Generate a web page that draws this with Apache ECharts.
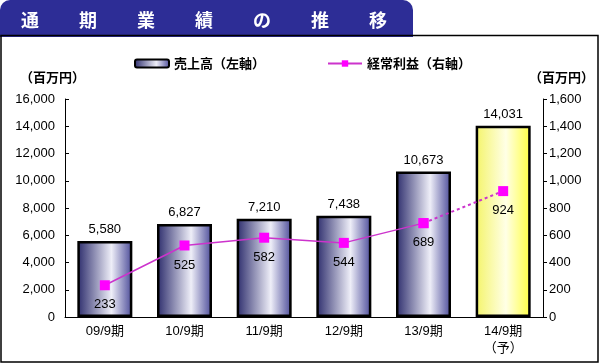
<!DOCTYPE html>
<html><head><meta charset="utf-8">
<script src="https://cdn.jsdelivr.net/npm/echarts@6/dist/echarts.min.js"></script>
<style>html,body{margin:0;padding:0;background:#fff}#c{width:600px;height:364px}</style>
</head><body><div id="c"></div>
<script>
var titleChars = ['通','期','業','績','の','推','移'];
var categories = ['09/9期','10/9期','11/9期','12/9期','13/9期','14/9期\n（予）'];
var sales = [5580, 6827, 7210, 7438, 10673, 14031];
var profit = [233, 525, 582, 544, 689, 924];
var leftTicks = {min: 0, max: 16000, interval: 2000};
var rightTicks = {min: 0, max: 1600, interval: 200};
var unitLabel = '（百万円）';
var salesName = '売上高（左軸）';
var profitName = '経常利益（右軸）';

var FONT = '"Liberation Sans", "Noto Sans CJK JP", sans-serif';
var navyGrad = new echarts.graphic.LinearGradient(0,0,1,0,[
  {offset:0,color:'#2c2c6c'},{offset:0.62,color:'#eeeef8'},{offset:1,color:'#4a4a98'}]);
var yellowGrad = new echarts.graphic.LinearGradient(0,0,1,0,[
  {offset:0,color:'#f4f46a'},{offset:0.55,color:'#ffffe6'},{offset:1,color:'#ffff40'}]);

var salesData = sales.map(function(v,i){
  var d = {value:v};
  if (i === sales.length-1) d.itemStyle = {color: yellowGrad};
  return d;
});
var n = profit.length;
var solidProfit = profit.map(function(v,i){ return i < n-1 ? v : '-'; });
var dotProfit = profit.map(function(v,i){ return i >= n-2 ? v : '-'; });

var graphics = [
  {type:'rect', shape:{x:0,y:0,width:413,height:37,r:[10,10,0,0]}, style:{fill:'#2d2d96'}, z:10},
  {type:'rect', shape:{x:1,y:35.5,width:597,height:326.5}, style:{fill:null,stroke:'#000',lineWidth:1.5}, z:11},
  {type:'text', left:20, top:71, style:{text:unitLabel, font:'bold 13px "Noto Sans CJK JP", sans-serif', fill:'#000'}},
  {type:'text', left:529, top:71, style:{text:unitLabel, font:'bold 13px "Noto Sans CJK JP", sans-serif', fill:'#000'}}
];
titleChars.forEach(function(ch,i){
  graphics.push({type:'text', x:30 + i*58, y:20, z:12,
    style:{text:ch, font:'bold 18px "Noto Sans CJK JP", sans-serif', fill:'#fff', align:'center', verticalAlign:'middle'}});
});

var chart = echarts.init(document.getElementById('c'), null, {renderer:'canvas'});
chart.setOption({
  animation:false,
  backgroundColor:'#fff',
  graphic: graphics,
  legend:{
    left:129, top:52, itemWidth:34, itemHeight:8, itemGap:62,
    data:[{name:salesName, icon:'roundRect'}, {name:profitName}],
    textStyle:{fontFamily:'"Noto Sans CJK JP", sans-serif', fontWeight:'bold', fontSize:13, color:'#000'}
  },
  grid:{left:65, right:57, top:99, bottom:47},
  xAxis:{
    type:'category', data:categories,
    axisLine:{lineStyle:{color:'#000', width:1}},
    axisTick:{inside:true, length:4, lineStyle:{color:'#000'}},
    axisLabel:{color:'#000', fontSize:13, fontFamily:FONT, margin:6, lineHeight:17}
  },
  yAxis:[
    {type:'value', min:leftTicks.min, max:leftTicks.max, interval:leftTicks.interval,
     axisLine:{show:true, lineStyle:{color:'#000'}},
     axisTick:{show:true, inside:true, length:4, lineStyle:{color:'#000'}},
     splitLine:{show:false},
     axisLabel:{color:'#000', fontSize:13, fontFamily:FONT, margin:10,
       formatter:function(v){return v.toLocaleString('en-US');}}},
    {type:'value', min:rightTicks.min, max:rightTicks.max, interval:rightTicks.interval, position:'right',
     axisLine:{show:true, lineStyle:{color:'#000'}},
     axisTick:{show:true, inside:false, length:4, lineStyle:{color:'#000'}},
     splitLine:{show:false},
     axisLabel:{color:'#000', fontSize:13, fontFamily:FONT, margin:6,
       formatter:function(v){return v.toLocaleString('en-US');}}}
  ],
  series:[
    {name:salesName, type:'bar', yAxisIndex:0, data:salesData, barWidth:55,
     itemStyle:{color:navyGrad, borderColor:'#000', borderWidth:2.5},
     label:{show:true, position:'top', distance:5, color:'#000', fontSize:13, fontFamily:FONT,
       formatter:function(p){return p.value.toLocaleString('en-US');}}},
    {name:profitName, type:'line', yAxisIndex:1, data:solidProfit,
     symbol:'rect', symbolSize:10, z:5,
     itemStyle:{color:'#ff00ff'},
     lineStyle:{color:'#cc33cc', width:1.5},
     label:{show:true, position:'bottom', distance:8, color:'#000', fontSize:13, fontFamily:FONT}},
    {name:profitName, type:'line', yAxisIndex:1, data:dotProfit,
     symbol:'rect', symbolSize:10, z:4,
     itemStyle:{color:'#ff00ff'},
     lineStyle:{color:'#cc33cc', width:2, type:[3,3]},
     label:{show:true, position:'bottom', distance:8, color:'#000', fontSize:13, fontFamily:FONT,
       formatter:function(p){return p.dataIndex === n-1 ? String(p.value) : '';}}}
  ]
});
</script></body></html>
